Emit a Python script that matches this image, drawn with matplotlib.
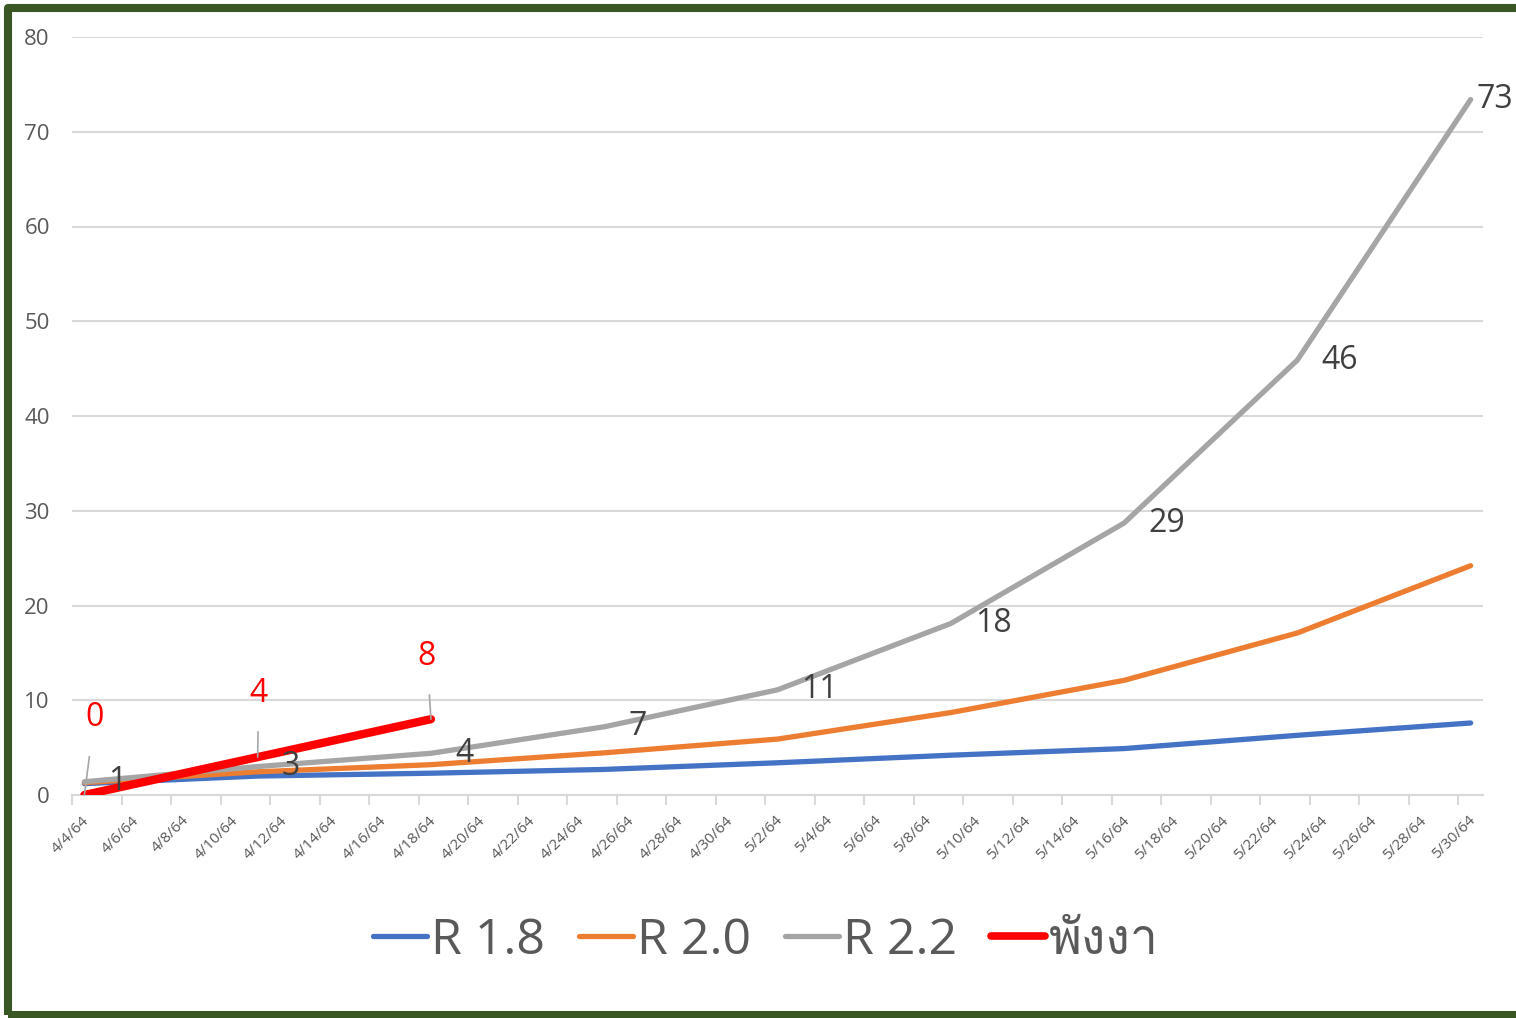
import numpy as np
import pandas as pd
import matplotlib
matplotlib.use('Agg')
import matplotlib.pyplot as plt
from matplotlib import font_manager
from matplotlib.ft2font import FT2Font
from matplotlib.patches import Rectangle
from matplotlib.lines import Line2D
from matplotlib.transforms import ScaledTranslation

# weekly data points (Thai year 2564)
point_dates = ['4/4/64', '4/11/64', '4/18/64', '4/25/64', '5/2/64', '5/9/64', '5/16/64', '5/23/64', '5/30/64']
r18 = [1.2, 2.0, 2.3, 2.7, 3.4, 4.2, 4.9, 6.3, 7.6]
r20 = [1.3, 2.45, 3.2, 4.45, 5.9, 8.7, 12.1, 17.1, 24.2]
r22 = [1.4, 3.0, 4.4, 7.2, 11.1, 18.1, 28.7, 45.9, 73.4]
phangnga_dates = ['4/4/64', '4/11/64', '4/18/64']
phangnga = [0, 4, 8]
series_names = ['R 1.8', 'R 2.0', 'R 2.2', 'พังงา']

start = pd.Timestamp('2021-04-04')
tick_dates = pd.date_range('2021-04-04', '2021-05-30', freq='2D')
tick_labels = [f'{d.month}/{d.day}/64' for d in tick_dates]


def day_index(lbl):
    m, d, _ = lbl.split('/')
    return (pd.Timestamp(2021, int(m), int(d)) - start).days


def find_thai_font():
    for f in font_manager.fontManager.ttflist:
        try:
            if 0x0E1E in FT2Font(f.fname).get_charmap():
                return f.name
        except Exception:
            pass
    return 'DejaVu Sans'


thai = find_thai_font()
plt.rcParams['font.family'] = ['Open Sans', thai, 'DejaVu Sans']

W, H = 1516, 1018
fig = plt.figure(figsize=(W / 100, H / 100), dpi=100)
ax = fig.add_axes([72 / W, 223 / H, 1411 / W, 758 / H])

xs = np.array([day_index(d) for d in point_dates]) + 0.5
xr = np.array([day_index(d) for d in phangnga_dates]) + 0.5

blue, orange, gray, red = '#4472C4', '#ED7D31', '#A5A5A5', '#FF0000'
ax.plot(xs, r18, color=blue, lw=3.8, solid_capstyle='round', zorder=3)
ax.plot(xs, r20, color=orange, lw=3.8, solid_capstyle='round', zorder=3)
ax.plot(xs, r22, color=gray, lw=3.8, solid_capstyle='round', zorder=3)
ax.plot(xr, phangnga, color=red, lw=6, solid_capstyle='round', zorder=5)

# data labels R 2.2
for i, (x, v) in enumerate(zip(xs, r22)):
    dx = 6 if i == len(r22) - 1 else 24
    ax.annotate(f'{v:.0f}', (x, v), xytext=(dx, 0), textcoords='offset pixels',
                ha='left', va='center', fontsize=23, color='#404040', zorder=6,
                annotation_clip=False)

# data labels พังงา with leader lines
red_offsets = [(10, 77), (1, 64), (-4, 63)]
for (x, v), off in zip(zip(xr, phangnga), red_offsets):
    ax.annotate(f'{v}', (x, v), xytext=off, textcoords='offset pixels',
                ha='center', va='center', fontsize=23, color=red, zorder=6,
                arrowprops=dict(arrowstyle='-', color='#A6A6A6', lw=1.2,
                                shrinkA=14, shrinkB=0))

ax.set_xlim(0, 57)
ax.set_ylim(0, 80)
ax.set_yticks(range(0, 81, 10))
ax.yaxis.grid(True, color='#D9D9D9', lw=1.5)
ax.set_axisbelow(True)
for s in ['top', 'right', 'left']:
    ax.spines[s].set_visible(False)
ax.spines['bottom'].set_color('#D9D9D9')
ax.spines['bottom'].set_linewidth(1.5)
ax.tick_params(axis='y', length=0, pad=16, labelsize=16, labelcolor='#595959')
ax.set_xticks(np.arange(len(tick_labels)) * 2)
ax.set_xticklabels(tick_labels, rotation=45, ha='right', va='top', rotation_mode='anchor')
ax.tick_params(axis='x', length=7, width=1.5, color='#D9D9D9', pad=6,
               labelsize=11, labelcolor='#595959')
for lbl in ax.get_xticklabels():
    lbl.set_transform(lbl.get_transform() + ScaledTranslation(0.10, 0, fig.dpi_scale_trans))

handles = [Line2D([], [], color=c, lw=lw, solid_capstyle='round')
           for c, lw in [(blue, 3.8), (orange, 3.8), (gray, 3.8), (red, 5.5)]]
leg = fig.legend(handles, series_names, loc='center', bbox_to_anchor=(0.505, 1 - 941 / H),
                 ncol=4, frameon=False, handlelength=1.08, handletextpad=0.08,
                 columnspacing=0.68, prop={'size': 36})
for t in leg.get_texts():
    t.set_color('#595959')

# green frame (right edge falls outside the picture)
fig.patches.append(Rectangle((8 / W, 3 / H), 1540 / W, 1007 / H, transform=fig.transFigure,
                             fill=False, ec='#385723', lw=5.8, joinstyle='round'))

fig.savefig('out.png', dpi=100)
